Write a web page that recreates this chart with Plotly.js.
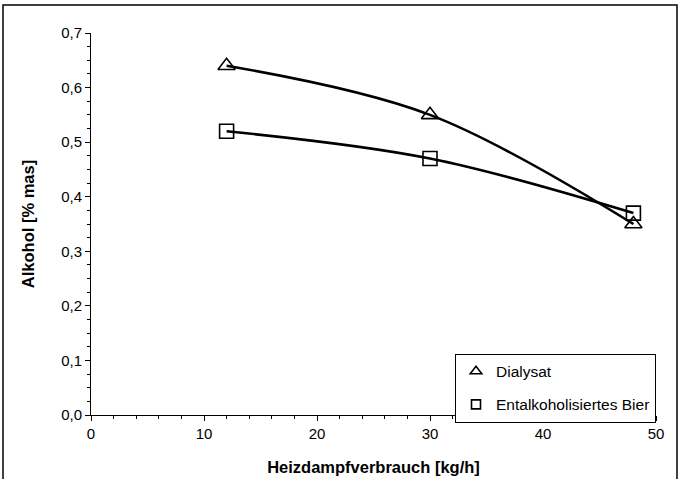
<!DOCTYPE html>
<html><head><meta charset="utf-8">
<script src="https://cdn.plot.ly/plotly-3.0.1.min.js"></script>
<style>html,body{margin:0;padding:0;background:#fff}#c{width:680px;height:479px}</style>
</head><body><div id="c"></div>
<script>
const xSteam = [12, 30, 48];
const dialysat = [0.64, 0.55, 0.35];
const bier = [0.52, 0.47, 0.37];
const names = ["Dialysat", "Entalkoholisiertes Bier"];

const L = 91, R = 24, T = 33, B = 64, W = 680, H = 479;
const pw = W - L - R, ph = H - T - B;

const lineStyle = {color: "#000", width: 2.6, shape: "spline", smoothing: 1};
const traces = [
  {x: xSteam, y: dialysat, mode: "lines", line: lineStyle, showlegend: false, hoverinfo: "skip"},
  {x: xSteam, y: bier, mode: "lines", line: lineStyle, showlegend: false, hoverinfo: "skip"},
  {x: xSteam, y: dialysat, mode: "markers", showlegend: false,
   marker: {symbol: "triangle-up-open", size: 15, color: "#000", line: {width: 1.6, color: "#000"}}},
  {x: xSteam, y: bier, mode: "markers", showlegend: false,
   marker: {symbol: "square-open", size: 14, color: "#000", line: {width: 1.6, color: "#000"}}},
  {x: [null], y: [null], mode: "markers", name: names[0], legendgroup: "a",
   marker: {symbol: "triangle-up-open", size: 10, color: "#000", line: {width: 1.6, color: "#000"}}},
  {x: [null], y: [null], mode: "markers", name: names[1], legendgroup: "b",
   marker: {symbol: "square-open", size: 9, color: "#000", line: {width: 1.6, color: "#000"}}}
];

const layout = {
  width: W, height: H,
  margin: {l: L, r: R, t: T, b: B, pad: 0},
  paper_bgcolor: "#fff", plot_bgcolor: "#fff",
  font: {family: "Liberation Sans, Arial, sans-serif", size: 14, color: "#000"},
  separators: ",.",
  showlegend: true,
  xaxis: {
    range: [0, 50], dtick: 10, tick0: 0, ticks: "outside", ticklen: 5, tickwidth: 1, tickcolor: "#000",
    showline: true, linecolor: "#000", linewidth: 1, showgrid: false, zeroline: false,
    minor: {dtick: 2, ticks: "outside", ticklen: 3, tickcolor: "#000", showgrid: false},
    tickfont: {size: 15}, title: {text: "Heizdampfverbrauch [kg/h]", font: {size: 16.5, weight: "bold"}, standoff: 20}
  },
  yaxis: {
    range: [0, 0.7], dtick: 0.1, tick0: 0, tickformat: ".1f", ticks: "outside", ticklen: 5, tickwidth: 1, tickcolor: "#000",
    showline: true, linecolor: "#000", linewidth: 1, showgrid: false, zeroline: false,
    minor: {dtick: 0.025, ticks: "outside", ticklen: 3, tickcolor: "#000", showgrid: false},
    tickfont: {size: 15}, title: {text: "Alkohol [% mas]", font: {size: 16.5, weight: "bold"}, standoff: 22}
  },
  legend: {
    x: 1, xanchor: "right", y: -0.02, yanchor: "bottom",
    bordercolor: "#000", borderwidth: 1, bgcolor: "#fff",
    font: {size: 15.5}, itemwidth: 30, tracegroupgap: 10, traceorder: "grouped"
  },
  shapes: [{
    type: "rect", xref: "paper", yref: "paper",
    x0: (3 - L) / pw, x1: (677 - L) / pw,
    y0: (H - B - 484) / ph, y1: (H - B - 5) / ph,
    line: {color: "#000", width: 1.5}, fillcolor: "rgba(0,0,0,0)", layer: "below"
  }]
};
Plotly.newPlot("c", traces, layout, {displayModeBar: false, staticPlot: true});
</script></body></html>
